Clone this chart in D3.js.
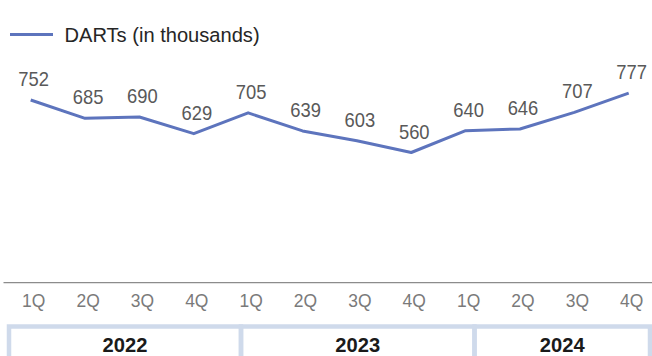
<!DOCTYPE html>
<html>
<head>
<meta charset="utf-8">
<script src="https://cdn.jsdelivr.net/npm/d3@7/dist/d3.min.js"></script>
<style>
  html, body { margin: 0; padding: 0; background: #ffffff; }
  svg { display: block; font-family: "Liberation Sans", Arial, sans-serif; }
</style>
</head>
<body>
<svg id="chart" width="652" height="356"></svg>
<script>
// Quarterly DARTs, in thousands
const quarters = ["1Q", "2Q", "3Q", "4Q", "1Q", "2Q", "3Q", "4Q", "1Q", "2Q", "3Q", "4Q"];
const darts = [752, 685, 690, 629, 705, 639, 603, 560, 640, 646, 707, 777];
const years = ["2022", "2023", "2024"];
const seriesName = "DARTs (in thousands)";

const W = 652, H = 356;
const lineColor = "#5d74bd";
const boxColor = "#cfdaeb";
const squeeze = 0.92; // slightly condensed numerals

const svg = d3.select("#chart");

const idx = d3.range(darts.length);
const x = d3.scalePoint().domain(idx).range([30.7, 628.7]);
const y = d3.scaleLinear().domain([0, 800]).range([305.6, 86.9]);

// legend
const legend = svg.append("g");
legend.append("line")
  .attr("x1", 10).attr("x2", 53).attr("y1", 34.5).attr("y2", 34.5)
  .attr("stroke", lineColor).attr("stroke-width", 3);
legend.append("text")
  .attr("x", 64.5).attr("y", 41.5)
  .attr("font-size", 20.1).attr("fill", "#262626")
  .text(seriesName);

// series line
const line = d3.line().x(i => x(i)).y(i => y(darts[i]));
svg.append("path")
  .datum(idx)
  .attr("d", line)
  .attr("fill", "none")
  .attr("stroke", lineColor)
  .attr("stroke-width", 3)
  .attr("stroke-linejoin", "round");

// value labels
svg.append("g").selectAll("text")
  .data(idx)
  .join("text")
  .attr("transform", i => `translate(${x(i) + 3},${y(darts[i]) - 14}) scale(${squeeze},1)`)
  .attr("text-anchor", "middle")
  .attr("font-size", 20)
  .attr("fill", "#595959")
  .text(i => darts[i]);

// category axis
const axisY = 282.7;
const xAxis = d3.axisBottom(x).tickSize(0).tickPadding(0).tickFormat(i => quarters[i]);
const gx = svg.append("g").attr("transform", `translate(0,${axisY})`).call(xAxis);
gx.select(".domain").remove();
gx.append("line")
  .attr("x1", 3.5).attr("x2", W).attr("y1", 0).attr("y2", 0)
  .attr("stroke", "#8c8c8c").attr("stroke-width", 1.2);
gx.selectAll(".tick text")
  .attr("dy", 0)
  .attr("y", 0)
  .attr("transform", `translate(2.5,24.5) scale(${squeeze},1)`)
  .attr("font-family", "Liberation Sans, Arial, sans-serif")
  .attr("font-size", 19)
  .attr("fill", "#7a7a7a");

// year boxes
const boxEdges = [9, 241, 474.5, 650];
const boxTop = 326.5;
const yearG = svg.append("g");
years.forEach((yr, k) => {
  const x0 = boxEdges[k], x1 = boxEdges[k + 1];
  yearG.append("rect")
    .attr("x", x0).attr("y", boxTop)
    .attr("width", x1 - x0).attr("height", 60)
    .attr("fill", "none")
    .attr("stroke", boxColor).attr("stroke-width", 4.5);
  yearG.append("text")
    .attr("transform", `translate(${(x0 + x1) / 2},351.5) scale(0.96,1)`)
    .attr("text-anchor", "middle")
    .attr("font-size", 21).attr("font-weight", "bold")
    .attr("fill", "#1a1a1a")
    .text(yr);
});
</script>
</body>
</html>
